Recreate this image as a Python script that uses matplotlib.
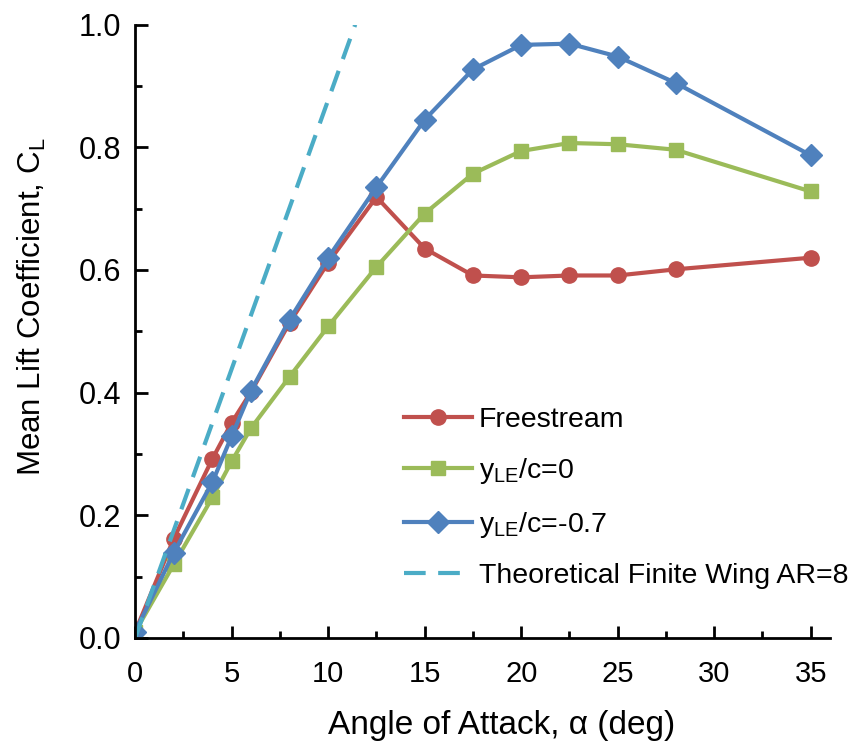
import numpy as np
import matplotlib.pyplot as plt
from matplotlib.ticker import MultipleLocator

plt.rcParams['font.family'] = ['Liberation Sans', 'DejaVu Sans']
plt.rcParams['mathtext.fontset'] = 'custom'
plt.rcParams['mathtext.rm'] = 'Liberation Sans'

# 数据
alpha_free = [0, 2, 4, 5, 6, 8, 10, 12.5, 15, 17.5, 20, 22.5, 25, 28, 35]
cl_free = [0.01, 0.162, 0.292, 0.351, 0.401, 0.514, 0.612, 0.719, 0.635,
           0.591, 0.588, 0.591, 0.591, 0.601, 0.620]

alpha_y0 = [0, 2, 4, 5, 6, 8, 10, 12.5, 15, 17.5, 20, 22.5, 25, 28, 35]
cl_y0 = [0.01, 0.120, 0.229, 0.288, 0.342, 0.426, 0.508, 0.605, 0.692,
         0.757, 0.794, 0.807, 0.805, 0.796, 0.728]

alpha_y07 = [0, 2, 4, 5, 6, 8, 10, 12.5, 15, 17.5, 20, 22.5, 25, 28, 35]
cl_y07 = [0.01, 0.139, 0.254, 0.329, 0.403, 0.519, 0.620, 0.735, 0.845,
          0.927, 0.967, 0.969, 0.948, 0.905, 0.787]

alpha_theory = [0, 11.4]
cl_theory = [0.0, 1.0]

fig = plt.figure(figsize=(8.61, 7.47), dpi=100)
ax = fig.add_axes([0.157, 0.146, 0.807, 0.821])

ax.plot(alpha_free, cl_free, color='#C0504D', marker='o', markersize=11,
        linewidth=3, label='Freestream')
ax.plot(alpha_y0, cl_y0, color='#9BBB59', marker='s', markersize=10,
        linewidth=3, label=r'y$_\mathregular{LE}$/c=0')
ax.plot(alpha_y07, cl_y07, color='#4F81BD', marker='D', markersize=11,
        linewidth=3, label=r'y$_\mathregular{LE}$/c=-0.7')
ax.plot(alpha_theory, cl_theory, color='#4BACC6', linewidth=3,
        dashes=(5.2, 3.0), label='Theoretical Finite Wing AR=8')

ax.set_xlim(0, 36)
ax.set_ylim(0, 1.0)
ax.xaxis.set_major_locator(MultipleLocator(5))
ax.xaxis.set_minor_locator(MultipleLocator(2.5))
ax.yaxis.set_major_locator(MultipleLocator(0.2))
ax.yaxis.set_minor_locator(MultipleLocator(0.1))
ax.yaxis.set_major_formatter(plt.FormatStrFormatter('%.1f'))

for side in ['top', 'right']:
    ax.spines[side].set_visible(False)
for side in ['left', 'bottom']:
    ax.spines[side].set_linewidth(2)

ax.tick_params(which='major', direction='in', length=9, width=2)
ax.tick_params(which='minor', direction='in', length=5, width=2)
ax.tick_params(axis='x', which='major', labelsize=21, pad=16)
ax.tick_params(axis='y', which='major', labelsize=22, pad=10)

ax.set_xlabel('Angle of Attack, α (deg)', fontsize=24)
ax.set_ylabel(r'Mean Lift Coefficient, C$_\mathregular{L}$', fontsize=22.5)
ax.xaxis.set_label_coords(0.527, -0.117)
ax.yaxis.set_label_coords(-0.125, 0.54)

ax.legend(loc='upper left', bbox_to_anchor=(0.37, 0.395), frameon=False,
          fontsize=20.5, handlelength=2.4, labelspacing=0.82,
          handletextpad=0.25, borderaxespad=0)

fig.savefig('out.png', dpi=100)
